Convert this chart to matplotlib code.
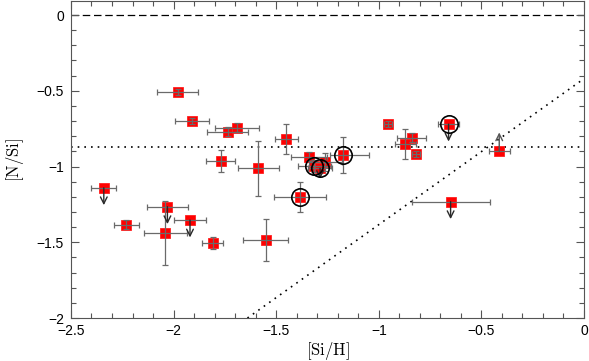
import matplotlib
matplotlib.use("Agg")
import matplotlib.pyplot as plt
from matplotlib.ticker import MultipleLocator
import numpy as np

plt.rcParams['mathtext.fontset'] = 'cm'
plt.rcParams['font.family'] = ['Liberation Sans', 'DejaVu Sans']

# Detections: [Si/H], [N/Si], x errors (minus, plus), y errors (minus, plus)
si_h   = [-1.98, -1.91, -1.737, -1.69, -1.77, -1.587, -2.23, -2.04, -1.81, -1.55,
          -1.45, -1.34, -1.26, -0.955, -0.84, -0.87, -0.82]
n_si   = [-0.508, -0.70, -0.77, -0.744, -0.964, -1.012, -1.384, -1.44, -1.503, -1.485,
          -0.82, -0.935, -0.968, -0.72, -0.81, -0.853, -0.92]
xerr_lo = [0.10, 0.085, 0.10, 0.107, 0.07, 0.10, 0.06, 0.105, 0.05, 0.11,
           0.055, 0.09, 0.08, 0.02, 0.07, 0.05, 0.02]
xerr_hi = [0.10, 0.085, 0.10, 0.107, 0.07, 0.10, 0.06, 0.105, 0.05, 0.11,
           0.055, 0.09, 0.08, 0.02, 0.07, 0.05, 0.02]
yerr_lo = [0.02, 0.02, 0.03, 0.03, 0.07, 0.18, 0.03, 0.21, 0.04, 0.14,
           0.10, 0.03, 0.06, 0.02, 0.03, 0.10, 0.02]
yerr_hi = [0.02, 0.02, 0.03, 0.03, 0.07, 0.18, 0.03, 0.21, 0.04, 0.14,
           0.10, 0.03, 0.06, 0.02, 0.03, 0.10, 0.02]

# Upper limits (arrow down)
ul_si_h = [-2.34, -2.03, -1.92, -0.65]
ul_n_si = [-1.14, -1.265, -1.353, -1.232]
ul_xerr = [0.06, 0.10, 0.08, 0.19]

# Lower limit (arrow up)
ll_si_h = [-0.413]
ll_n_si = [-0.90]
ll_xerr = [0.05]

# Circled detections
c_si_h    = [-1.315, -1.176, -1.383]
c_n_si    = [-0.997, -0.924, -1.20]
c_xerr_lo = [0.08, 0.062, 0.127]
c_xerr_hi = [0.08, 0.13, 0.127]
c_yerr    = [0.04, 0.12, 0.10]

# Circled upper limits
cul_si_h = [-1.286, -0.66]
cul_n_si = [-1.012, -0.72]
cul_xerr = [0.06, 0.05]
cul_len  = [0.07, 0.115]

# Reference lines
plateau_n_si = -0.87
diag_x = [-1.64, 0.0]
diag_y = [-2.0, -0.42]

fig = plt.figure(figsize=(5.89, 3.61), dpi=100)
ax = fig.add_axes([0.1205, 0.119, 0.871, 0.878])

ecol = '#6a6a6a'
sq = dict(marker='s', ms=7.5, mfc='#ff0000', mec='#ff2020', mew=0.6, ls='none', zorder=3)
ekw = dict(fmt='none', ecolor=ecol, elinewidth=0.9, capsize=2.5, capthick=0.9, zorder=4)
arw = dict(arrowstyle='->', color='#2a2a2a', lw=1.0, mutation_scale=12,
           shrinkA=0, shrinkB=0)

ax.axhline(0, color='black', lw=0.9, ls=(0, (6, 3)), zorder=1)
ax.axhline(plateau_n_si, color='black', lw=1.2, ls=(0, (1, 3)), zorder=1)
ax.plot(diag_x, diag_y, color='black', lw=1.2, ls=(0, (1, 3)), zorder=1)

# detections
ax.plot(si_h, n_si, **sq)
ax.errorbar(si_h, n_si, xerr=[xerr_lo, xerr_hi], yerr=[yerr_lo, yerr_hi], **ekw)

# upper limits
ax.plot(ul_si_h, ul_n_si, **sq)
ax.errorbar(ul_si_h, ul_n_si, xerr=ul_xerr, **ekw)
for x, y in zip(ul_si_h, ul_n_si):
    ax.annotate('', xy=(x, y - 0.115), xytext=(x, y), arrowprops=arw, zorder=5)

# lower limit
ax.plot(ll_si_h, ll_n_si, **sq)
ax.errorbar(ll_si_h, ll_n_si, xerr=ll_xerr, **ekw)
for x, y in zip(ll_si_h, ll_n_si):
    ax.annotate('', xy=(x, y + 0.125), xytext=(x, y),
                arrowprops=dict(arw, color='#555555'), zorder=5)

# circled detections
ax.plot(c_si_h, c_n_si, **sq)
ax.errorbar(c_si_h, c_n_si, xerr=[c_xerr_lo, c_xerr_hi], yerr=c_yerr, **ekw)
ax.plot(c_si_h, c_n_si, marker='o', ms=12.5, mfc='none', mec='black', mew=1.2,
        ls='none', zorder=6)

# circled upper limits
ax.plot(cul_si_h, cul_n_si, **sq)
ax.errorbar(cul_si_h, cul_n_si, xerr=cul_xerr, **ekw)
for x, y, L in zip(cul_si_h, cul_n_si, cul_len):
    ax.annotate('', xy=(x, y - L), xytext=(x, y), arrowprops=arw, zorder=5)
ax.plot(cul_si_h, cul_n_si, marker='o', ms=12.5, mfc='none', mec='black', mew=1.2,
        ls='none', zorder=6)

ax.set_xlim(-2.5, 0)
ax.set_ylim(-2, 0.092)
ax.xaxis.set_major_locator(MultipleLocator(0.5))
ax.xaxis.set_minor_locator(MultipleLocator(0.1))
ax.yaxis.set_major_locator(MultipleLocator(0.5))
ax.yaxis.set_minor_locator(MultipleLocator(0.1))
ax.tick_params(which='both', direction='in', top=True, right=True, color='#555555',
               labelsize=10, width=0.8)
ax.tick_params(which='major', length=6)
ax.tick_params(which='minor', length=3.5)
ax.set_xticks([-2.5, -2, -1.5, -1, -0.5, 0])
ax.set_xticklabels(['\u22122.5', '\u22122', '\u22121.5', '\u22121', '\u22120.5', '0'])
ax.set_yticks([-2, -1.5, -1, -0.5, 0])
ax.set_yticklabels(['\u22122', '\u22121.5', '\u22121', '\u22120.5', '0'])
ax.tick_params(axis='y', pad=5)
ax.tick_params(axis='x', pad=4)
for s in ax.spines.values():
    s.set_color('#555555')
    s.set_linewidth(0.8)

ax.set_xlabel(r'$\mathrm{[Si/H]}$', fontsize=12, labelpad=2)
ax.set_ylabel(r'$\mathrm{[N/Si]}$', fontsize=12, labelpad=8)

fig.savefig('out.png', dpi=100)
